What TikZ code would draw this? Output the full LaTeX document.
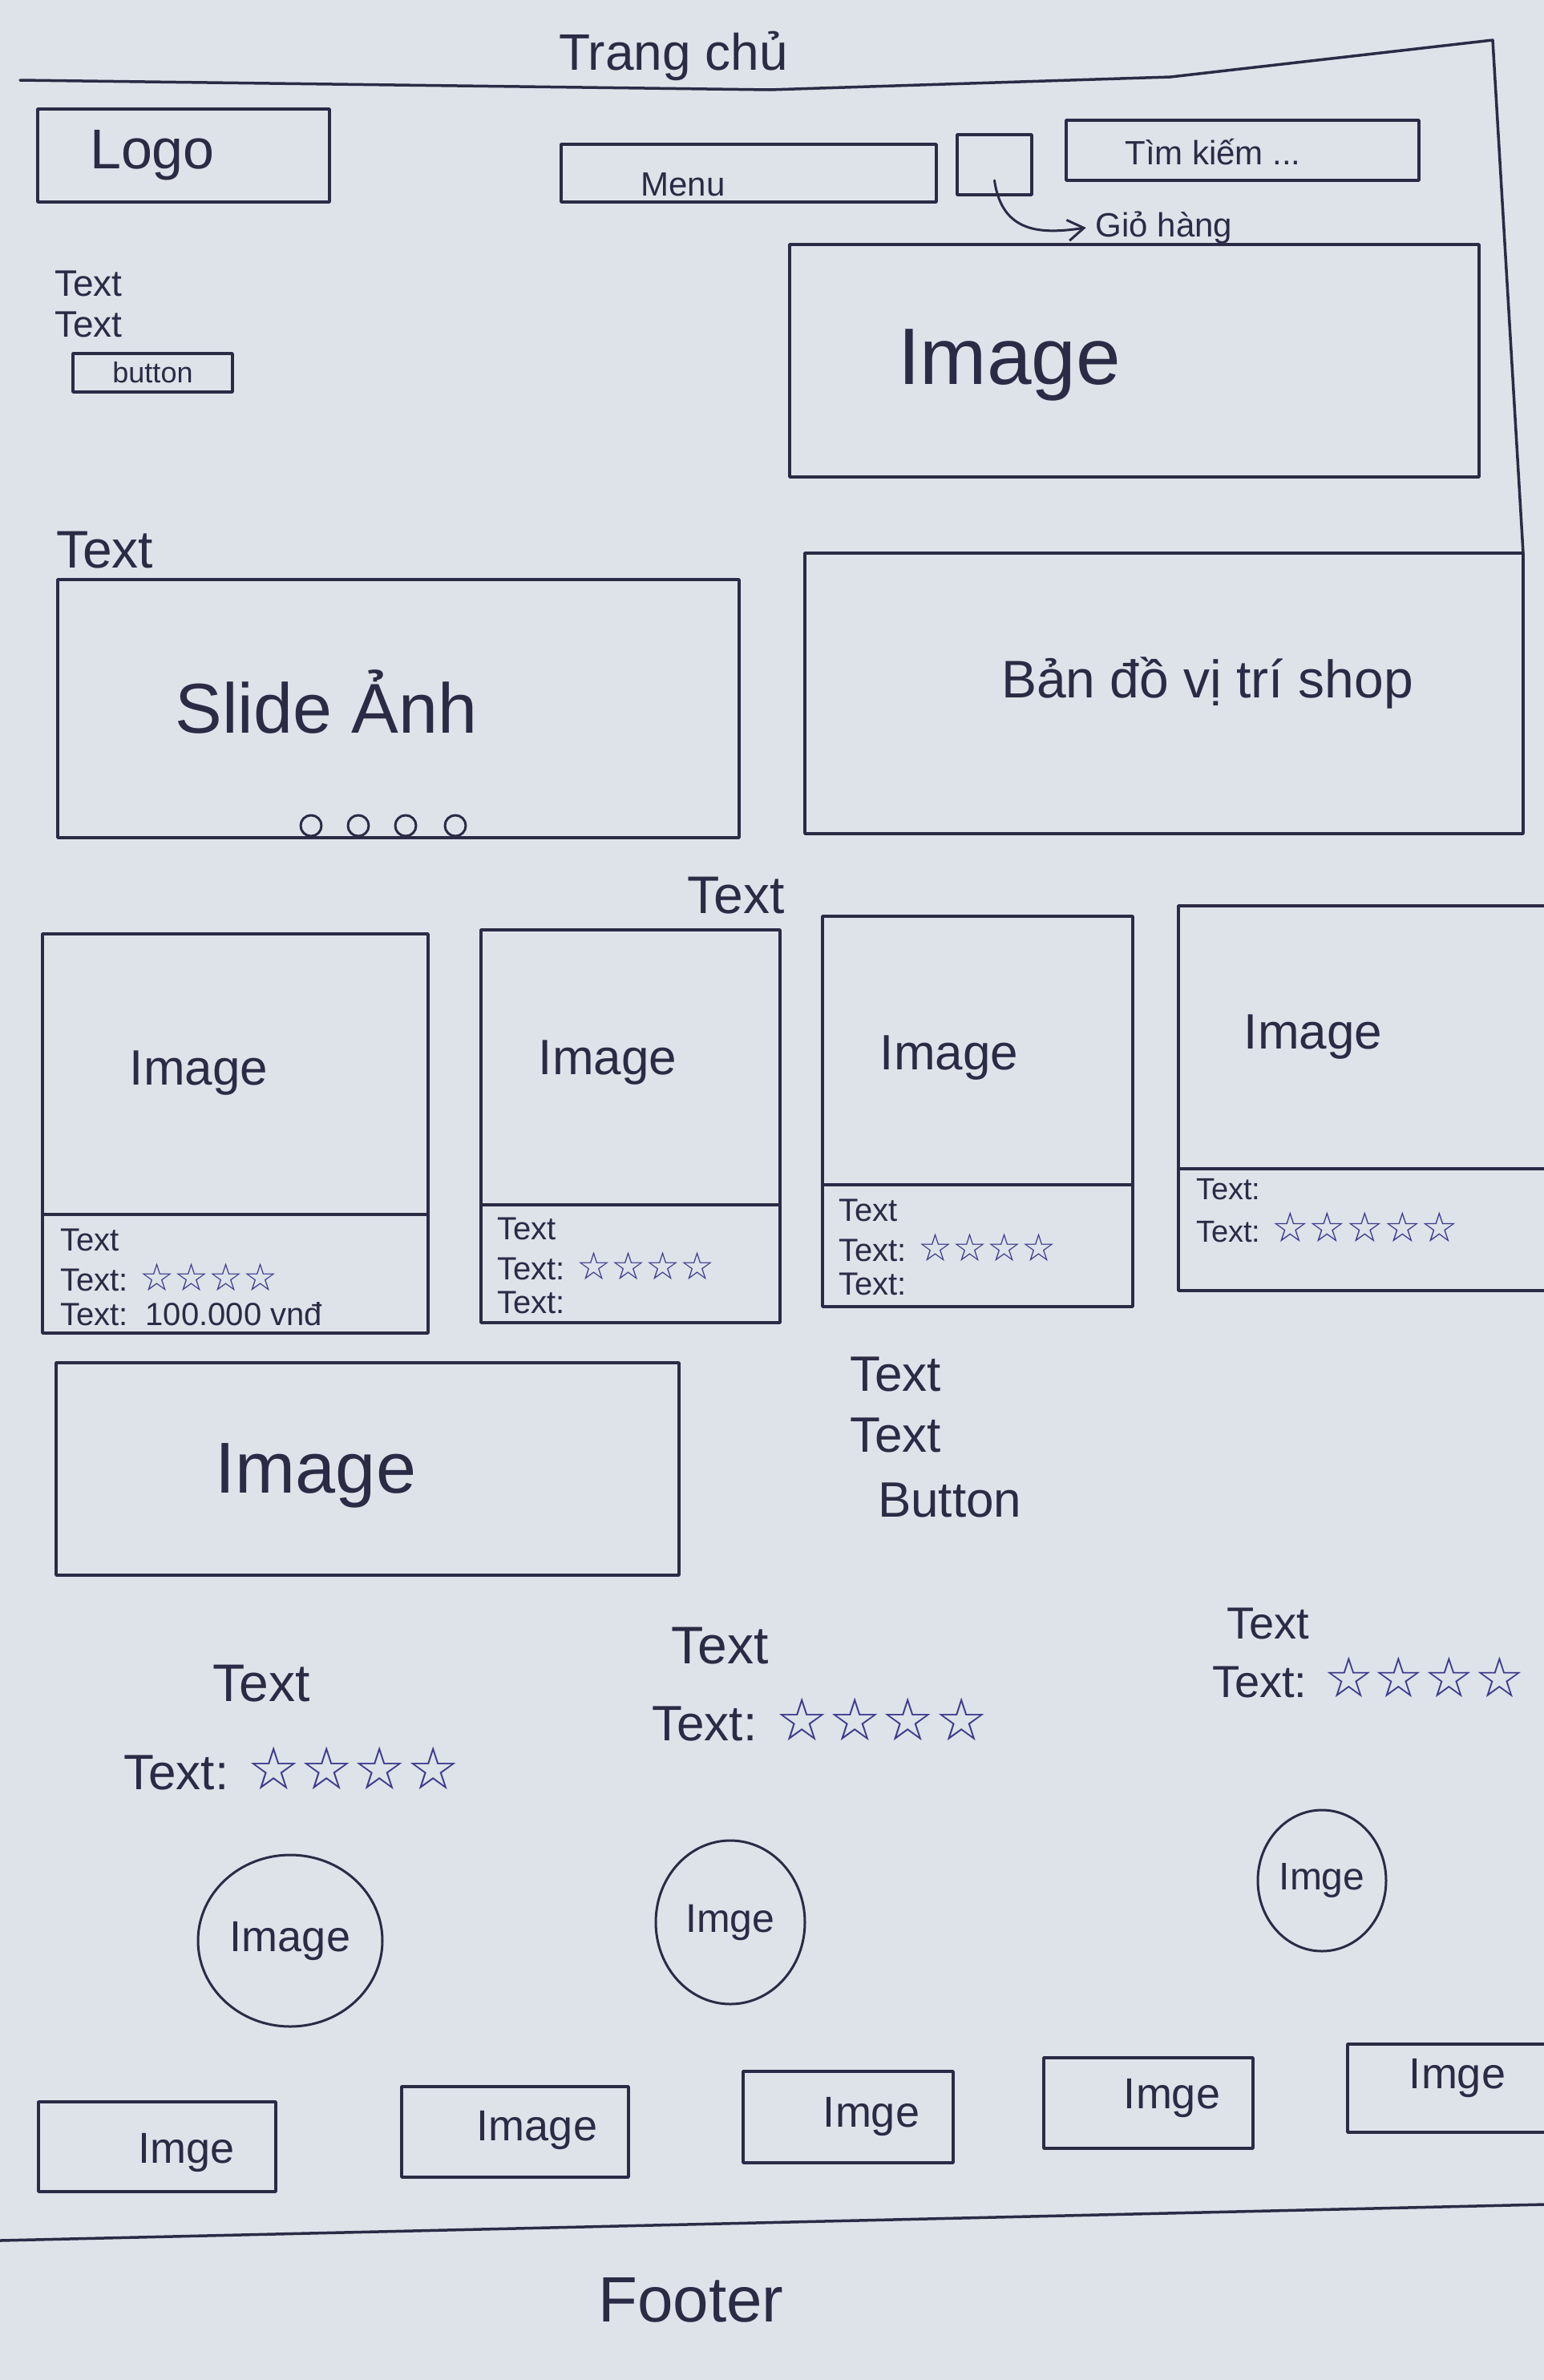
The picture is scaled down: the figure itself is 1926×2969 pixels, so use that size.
\documentclass[tikz,border=0pt]{standalone}
\usepackage{fontspec}
\setmainfont{Liberation Sans}
\newfontfamily\symfont{DejaVu Sans}
\usetikzlibrary{shapes.geometric,calc,arrows.meta}
\definecolor{paper}{HTML}{DEE3EA}
\definecolor{ink}{HTML}{2B2B45}
\definecolor{starink}{HTML}{3C3A8C}
\newcommand{\fsz}[1]{\fontsize{#1}{#1}\selectfont}
% rating stars: size, glyphs
\newcommand{\starrow}[2]{{\symfont\fsz{#1}\color{starink}#2}}
\begin{document}
\begin{tikzpicture}[x=1pt,y=-1pt,
  every node/.style={text=ink, inner sep=0pt, outer sep=0pt},
  pen/.style={draw=ink, line width=3.5pt, line cap=round, line join=round},
  box/.style={pen, rectangle, anchor=north west},
  lbl/.style={anchor=west},
  ring/.style={pen, line width=3pt, ellipse},
  dotring/.style={pen, line width=3pt, circle, minimum size=26pt},
  tip/.style={-{Straight Barb[length=20pt,width=26pt,line width=3pt]}}]

% sheet
\useasboundingbox (0,0) rectangle (1926,2969);
\fill[paper] (0,0) rectangle (1926,2969);
\clip (0,0) rectangle (1926,2969);

% page title
\node (title) at (840,70) {\fsz{64}Trang chủ};

% header
\node[box, minimum width=364, minimum height=116] (logo) at (47,136) {};
\node (logotxt) at (190,194) {\fsz{70}Logo};
\node[box, minimum width=468, minimum height=72] (menu) at (700,180) {};
\node (menutxt) at (852,230) {\fsz{42}Menu};
\node[box, minimum width=93, minimum height=75] (cart) at (1194,168) {};
\node[box, minimum width=440, minimum height=75] (search) at (1330,150) {};
\node (searchtxt) at (1513,190) {\fsz{42}Tìm kiếm ...};
\node (gio) at (1452,284) {\fsz{42}Giỏ hàng};
\draw[pen, line width=3pt, tip] ($(cart.south)+(0,-18)$) .. controls (1250,292) and (1300,292) .. ($(gio.west)+(-12,0)$);

% intro block
\node[lbl] (intro1) at (68,354) {\fsz{46}Text};
\node[lbl] (intro2) at (68,405) {\fsz{46}Text};
\node[box, minimum width=199, minimum height=48] (btn) at (91,441) {};
\node (btntxt) at (btn.center) {\fsz{36}button};
\node[box, minimum width=860, minimum height=290] (hero) at (985,305) {};
\node (herotxt) at (1259,455) {\fsz{100}Image};

% slider and map
\node[lbl] (slidecap) at (70,686) {\fsz{66}Text};
\node[box, minimum width=850, minimum height=322] (slide) at (72,723) {};
\node (slidetxt) at (407,875) {\fsz{88}Slide Ảnh};
\node[dotring] (d1) at (388,1030) {};
\node[dotring] (d2) at (447,1030) {};
\node[dotring] (d3) at (506,1030) {};
\node[dotring] (d4) at (568,1030) {};
\node[box, minimum width=896, minimum height=350] (map) at (1004,690) {};
\node (maptxt) at (1506,852) {\fsz{66}Bản đồ vị trí shop};

% page frame
\draw[pen] (25,100) -- (960,112) -- (1460,96) -- (1862,50) -- (map.north east);

% product cards
\node (prodcap) at (918,1117) {\fsz{66}Text};

\node[box, minimum width=481, minimum height=498] (card1) at (53,1165) {};
\draw[pen] ($(card1.north west)+(0,350)$) -- ($(card1.north east)+(0,350)$);
\node (img1) at (248,1339) {\fsz{62}Image};
\node[lbl] (c1a) at (75,1547) {\fsz{40}Text};
\node[lbl] (c1b) at (75,1593) {\fsz{40}Text: \starrow{48}{☆☆☆☆}};
\node[lbl] (c1c) at (75,1639) {\fsz{40}Text:\ \ 100.000 vnđ};

\node[box, minimum width=373, minimum height=490] (card2) at (600,1160) {};
\draw[pen] ($(card2.north west)+(0,343)$) -- ($(card2.north east)+(0,343)$);
\node (img2) at (758,1326) {\fsz{62}Image};
\node[lbl] (c2a) at (620,1533) {\fsz{40}Text};
\node[lbl] (c2b) at (620,1579) {\fsz{40}Text: \starrow{48}{☆☆☆☆}};
\node[lbl] (c2c) at (620,1625) {\fsz{40}Text:};

\node[box, minimum width=387, minimum height=487] (card3) at (1026,1143) {};
\draw[pen] ($(card3.north west)+(0,335)$) -- ($(card3.north east)+(0,335)$);
\node (img3) at (1184,1320) {\fsz{62}Image};
\node[lbl] (c3a) at (1046,1510) {\fsz{40}Text};
\node[lbl] (c3b) at (1046,1556) {\fsz{40}Text: \starrow{48}{☆☆☆☆}};
\node[lbl] (c3c) at (1046,1602) {\fsz{40}Text:};

\node[box, minimum width=490, minimum height=480] (card4) at (1470,1130) {};
\draw[pen] ($(card4.north west)+(0,328)$) -- ($(card4.north east)+(0,328)$);
\node (img4) at (1638,1294) {\fsz{62}Image};
\node[lbl] (c4a) at (1492,1484) {\fsz{38}Text:};
\node[lbl] (c4b) at (1492,1531) {\fsz{38}Text: \starrow{52}{☆☆☆☆☆}};

% feature block
\node[box, minimum width=777, minimum height=265] (feat) at (70,1700) {};
\node (feattxt) at (394,1841) {\fsz{90}Image};
\node[lbl] (f1) at (1060,1714) {\fsz{62}Text};
\node[lbl] (f2) at (1060,1790) {\fsz{62}Text};
\node[lbl] (f3) at (1095,1871) {\fsz{62}Button};

% reviews
\node (r1a) at (326,2100) {\fsz{66}Text};
\node (r1b) at (364,2206) {\fsz{62}Text: \starrow{74}{☆☆☆☆}};
\node (r2a) at (898,2053) {\fsz{66}Text};
\node (r2b) at (1023,2145) {\fsz{62}Text: \starrow{74}{☆☆☆☆}};
\node (r3a) at (1582,2025) {\fsz{56}Text};
\node (r3b) at (1707,2092) {\fsz{56}Text: \starrow{70}{☆☆☆☆}};

\node[ring, minimum width=230, minimum height=214] (av1) at (362,2421) {};
\node (av1txt) at (av1.center) {\fsz{54}Image};
\node[ring, minimum width=186, minimum height=204] (av2) at (911,2398) {};
\node (av2txt) at (av2.center) {\fsz{50}Imge};
\node[ring, minimum width=160, minimum height=176] (av3) at (1649,2346) {};
\node (av3txt) at (av3.center) {\fsz{48}Imge};

% partner logos
\node[box, minimum width=296, minimum height=112] (b1) at (48,2622) {};
\node (b1txt) at (233,2685) {\fsz{54}Imge};
\node[box, minimum width=283, minimum height=113] (b2) at (501,2603) {};
\node (b2txt) at (670,2657) {\fsz{54}Image};
\node[box, minimum width=262, minimum height=114] (b3) at (927,2584) {};
\node (b3txt) at (1087,2640) {\fsz{54}Imge};
\node[box, minimum width=261, minimum height=113] (b4) at (1302,2567) {};
\node (b4txt) at (1462,2617) {\fsz{54}Imge};
\node[box, minimum width=279, minimum height=110] (b5) at (1681,2550) {};
\node (b5txt) at (1818,2592) {\fsz{54}Imge};

% footer
\draw[pen] (0,2795) -- (1926,2750);
\node (footer) at (862,2869) {\fsz{80}Footer};
\end{tikzpicture}
\end{document}
